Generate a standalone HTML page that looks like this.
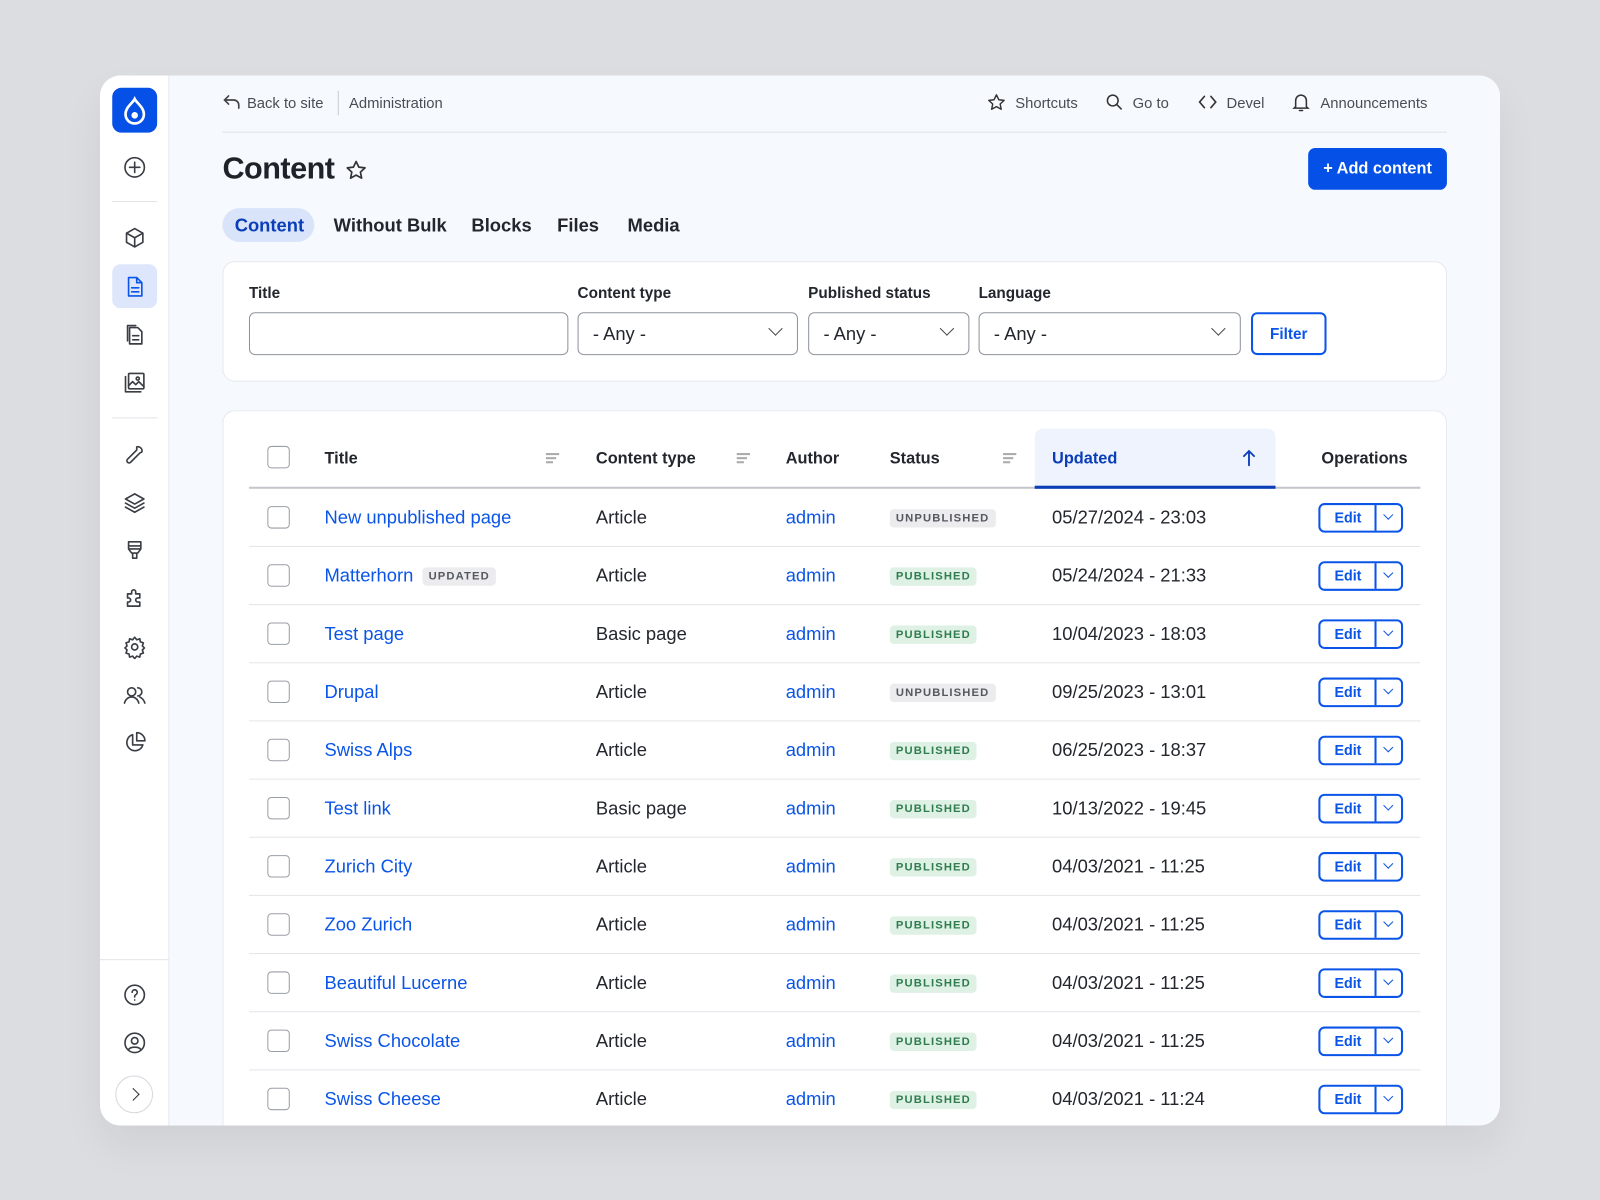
<!DOCTYPE html>
<html><head><meta charset="utf-8">
<style>
*{box-sizing:border-box;margin:0;padding:0}
html,body{width:1600px;height:1200px;overflow:hidden;background:#dcdde1;font-family:"Liberation Sans",sans-serif}
#w{position:absolute;left:0;top:0;width:1568px;height:1176px;transform:scale(1.020408);transform-origin:0 0}
.a{position:absolute}
#card{left:98px;top:74px;width:1372px;height:1029px;border-radius:20px;background:#f6f9fe;overflow:hidden;box-shadow:0 20px 40px rgba(0,0,0,.06)}
#side{left:0;top:0;width:68px;height:1029px;background:#fff;border-right:1px solid #e6e8ec}
.ic{position:absolute;left:22px;width:24px;height:24px}
.ic svg{width:24px;height:24px;fill:none;stroke:#3a3d44;stroke-width:1.6;stroke-linecap:round;stroke-linejoin:round}
.t{position:absolute;white-space:nowrap}
.top{font-size:14.5px;color:#4a4d55;top:94px}
.tab{font-size:18px;font-weight:bold;color:#23262d;top:211px}
.lbl{font-size:15px;font-weight:bold;color:#23262d;top:279px}
.inp{position:absolute;top:306px;height:42px;border:1px solid #8e929c;border-radius:6px;background:#fff;font-size:18px;color:#23262d;padding:10px 14px}
.chev{position:absolute;right:16px;width:10px;height:10px;border-right:1.6px solid #444;border-bottom:1.6px solid #444;transform:rotate(45deg);top:10px}
.th{position:absolute;font-size:16px;font-weight:bold;color:#23262d;top:441px}
.sorti{position:absolute;top:444px;width:13px;height:10px}
.sorti i{display:block;height:1.5px;background:#aaa;margin-bottom:2.5px}
.cb{position:absolute;left:262px;width:22px;height:22px;border:1.5px solid #9a9ea6;border-radius:4px;background:#fff}
.row{position:absolute;left:244px;width:1148px;height:57px;border-bottom:1px solid #e3e5e9}
.lk{position:absolute;font-size:18px;color:#0a55e8;margin-top:1px}
.tx{position:absolute;font-size:18px;color:#23262d;margin-top:1px}
.bd{position:absolute;font-size:11px;font-weight:bold;letter-spacing:1.1px;padding:3px 6px;border-radius:4px}
.un{background:#ececee;color:#55585e}
.pu{background:#def1e4;color:#2f7d4f}
.ed{position:absolute;left:1292px;width:83px;height:29px;border:2px solid #0a55e8;border-radius:6px;background:#fff}
.ed span{position:absolute;left:0;width:54px;top:4px;text-align:center;font-size:14px;font-weight:bold;color:#0a55e8}
.ed b{position:absolute;left:53px;top:0;bottom:0;width:1.5px;background:#0a55e8}
.ed i{position:absolute;left:63px;top:6px;width:7px;height:7px;border-right:1.8px solid #0a55e8;border-bottom:1.8px solid #0a55e8;transform:rotate(45deg)}
</style></head><body><div id="w">
<div id="card" class="a">
 <div id="side" class="a">
  <div class="a" style="left:12px;top:12px;width:44px;height:44px;border-radius:9px;background:#0550e6"><svg width="44" height="44" viewBox="0 0 44 44"><path d="M22 11c2 4 9 8 9 15a9 9 0 0 1-18 0c0-7 7-11 9-15z" fill="none" stroke="#fff" stroke-width="2.6"/><circle cx="22" cy="27" r="3.2" fill="#fff"/></svg></div>
  <div class="ic" style="top:78px"><svg viewBox="0 0 24 24"><circle cx="12" cy="12" r="9.5"/><path d="M12 7v10M7 12h10"/></svg></div>
  <div class="a" style="left:12px;top:123px;width:44px;height:1px;background:#e1e3e7"></div>
  <div class="ic" style="top:147px"><svg viewBox="0 0 24 24"><path d="M12 3l8 4.5v9L12 21l-8-4.5v-9z M4 7.5l8 4.5 8-4.5M12 12v9"/></svg></div>
  <div class="a" style="left:12px;top:185px;width:44px;height:43px;border-radius:8px;background:#dde6fb"></div>
  <div class="ic" style="top:195px"><svg viewBox="0 0 24 24" style="stroke:#0a55e8"><path d="M6 3h8l5 5v13H6z M14 3v5h5M9 13h7M9 17h7"/></svg></div>
  <div class="ic" style="top:242px"><svg viewBox="0 0 24 24"><path d="M7 5h8l4 4v12H7z M5 3h8M5 3v15M10 13h6M10 17h6"/></svg></div>
  <div class="ic" style="top:289px"><svg viewBox="0 0 24 24"><rect x="6" y="3" width="15" height="15" rx="1"/><path d="M3 6v15h15M6 15l4-4 3 3 3-3 5 5"/><circle cx="15" cy="8" r="1.5"/></svg></div>
  <div class="a" style="left:12px;top:335px;width:44px;height:1px;background:#e1e3e7"></div>
  <div class="ic" style="top:358px"><svg viewBox="0 0 24 24"><path d="M14 6a4 4 0 0 1 5 5l-2 1-9 9a2 2 0 0 1-3-3l9-9z"/></svg></div>
  <div class="ic" style="top:406px"><svg viewBox="0 0 24 24"><path d="M12 4l9 5-9 5-9-5z M3 13l9 5 9-5M3 17l9 5 9-5"/></svg></div>
  <div class="ic" style="top:453px"><svg viewBox="0 0 24 24"><path d="M6 4h12v7H6z M6 8h12M6 11l3 4h6l3-4M10 15v5h4v-5"/></svg></div>
  <div class="ic" style="top:501px"><svg viewBox="0 0 24 24"><path d="M9 5a2 2 0 0 1 4 0v2h4v4h-2a2 2 0 0 0 0 4h2v4H5v-4h1a2 2 0 0 0 0-4H5V7h4z"/></svg></div>
  <div class="ic" style="top:548px"><svg viewBox="0 0 24 24"><circle cx="12" cy="12" r="3"/><path d="M12 2.5l2 2.5 3-1 .5 3 3 1-1 3 2 2-2 2 1 3-3 1-.5 3-3-1-2 2.5-2-2.5-3 1-.5-3-3-1 1-3-2-2 2-2-1-3 3-1 .5-3 3 1z"/></svg></div>
  <div class="ic" style="top:595px"><svg viewBox="0 0 24 24"><circle cx="9" cy="9" r="4"/><path d="M2 20c1-4 4-6 7-6s6 2 7 6M15 5a4 4 0 0 1 0 8M17 14c2 1 4 3 5 6"/></svg></div>
  <div class="ic" style="top:642px"><svg viewBox="0 0 24 24"><path d="M10 4a8 8 0 1 0 10 10H10z M14 2v8h8a8 8 0 0 0-8-8z"/></svg></div>
  <div class="a" style="left:0;top:866px;width:68px;height:1px;background:#e1e3e7"></div>
  <div class="ic" style="top:889px"><svg viewBox="0 0 24 24"><circle cx="12" cy="12" r="9.5"/><path d="M9.5 9.5a2.5 2.5 0 1 1 3.5 2.3c-.7.4-1 1-1 1.7v.5M12 17h0"/></svg></div>
  <div class="ic" style="top:936px"><svg viewBox="0 0 24 24"><circle cx="12" cy="12" r="9.5"/><circle cx="12" cy="10" r="3.2"/><path d="M6 18.5c2-3 10-3 12 0"/></svg></div>
  <div class="a" style="left:15px;top:980px;width:37px;height:37px;border-radius:50%;border:1px solid #d5d8dd;background:#fff"><div class="a" style="left:12px;top:13px;width:9px;height:9px;border-right:1.6px solid #333;border-top:1.6px solid #333;transform:rotate(45deg)"></div></div>
 </div>
</div>
<svg class="a" style="left:218px;top:91px" width="18" height="18" viewBox="0 0 18 18" fill="none" stroke="#444" stroke-width="1.6" stroke-linecap="round"><path d="M6 3L2 7l4 4M2 7h9a5 5 0 0 1 5 5v3"/></svg>
<div class="t top" style="left:242px">Back to site</div>
<div class="a" style="left:331px;top:89px;width:1px;height:24px;background:#c9ccd2"></div>
<div class="t top" style="left:342px">Administration</div>
<svg class="a" style="left:967px;top:91px" width="19" height="19" viewBox="0 0 24 24" fill="none" stroke="#333" stroke-width="1.8" stroke-linejoin="round"><path d="M12 2.5l2.9 6 6.6.8-4.9 4.5 1.3 6.5L12 17l-5.9 3.3 1.3-6.5-4.9-4.5 6.6-.8z"/></svg>
<div class="t top" style="left:995px">Shortcuts</div>
<svg class="a" style="left:1083px;top:91px" width="18" height="18" viewBox="0 0 24 24" fill="none" stroke="#333" stroke-width="2" stroke-linecap="round"><circle cx="10" cy="10" r="7"/><path d="M15 15l6 6"/></svg>
<div class="t top" style="left:1110px">Go to</div>
<svg class="a" style="left:1174px;top:92px" width="19" height="16" viewBox="0 0 24 20" fill="none" stroke="#333" stroke-width="2" stroke-linecap="round"><path d="M8 3L2 10l6 7M16 3l6 7-6 7"/></svg>
<div class="t top" style="left:1202px">Devel</div>
<svg class="a" style="left:1266px;top:90px" width="18" height="20" viewBox="0 0 24 26" fill="none" stroke="#333" stroke-width="2" stroke-linecap="round"><path d="M5 19V11a7 7 0 0 1 14 0v8l2 2H3zM10 24h4"/></svg>
<div class="t top" style="left:1294px">Announcements</div>
<div class="a" style="left:218px;top:129px;width:1200px;height:1px;background:#dfe2e7"></div>
<div class="t" style="left:218px;top:149px;font-size:30px;font-weight:bold;color:#1f2228;letter-spacing:-.5px">Content</div>
<svg class="a" style="left:338px;top:156px" width="22" height="22" viewBox="0 0 24 24" fill="none" stroke="#333" stroke-width="1.8" stroke-linejoin="round"><path d="M12 2.5l2.9 6 6.6.8-4.9 4.5 1.3 6.5L12 17l-5.9 3.3 1.3-6.5-4.9-4.5 6.6-.8z"/></svg>
<div class="a" style="left:1282px;top:145px;width:136px;height:41px;border-radius:7px;background:#0550e6;color:#fff;font-size:16px;font-weight:bold;text-align:center;line-height:42px">+ Add content</div>
<div class="a" style="left:218px;top:204px;width:90px;height:33px;border-radius:17px;background:#d9e3f9"></div>
<div class="t tab" style="left:230px;color:#0a3db8">Content</div>
<div class="t tab" style="left:327px">Without Bulk</div>
<div class="t tab" style="left:462px">Blocks</div>
<div class="t tab" style="left:546px">Files</div>
<div class="t tab" style="left:615px">Media</div>
<div class="a" style="left:218px;top:256px;width:1200px;height:118px;background:#fff;border-radius:12px;border:1px solid #e6e9ee"></div>
<div class="t lbl" style="left:244px">Title</div>
<div class="t lbl" style="left:566px">Content type</div>
<div class="t lbl" style="left:792px">Published status</div>
<div class="t lbl" style="left:959px">Language</div>
<div class="inp" style="left:244px;width:313px"></div>
<div class="inp" style="left:566px;width:216px">- Any -<div class="chev"></div></div>
<div class="inp" style="left:792px;width:158px">- Any -<div class="chev"></div></div>
<div class="inp" style="left:959px;width:257px">- Any -<div class="chev"></div></div>
<div class="a" style="left:1226px;top:306px;width:74px;height:42px;border:2px solid #0a55e8;border-radius:6px;background:#fff;color:#0a55e8;font-size:15px;font-weight:bold;text-align:center;line-height:39px">Filter</div>
<div class="a" style="left:218px;top:402px;width:1200px;height:701px;background:#fff;border-radius:12px 12px 0 0;border:1px solid #e6e9ee;border-bottom:none"></div>
<div class="a" style="left:1014px;top:420px;width:236px;height:59px;background:#eff3fd;border-radius:8px 8px 0 0"></div>
<div class="a" style="left:244px;top:477px;width:1148px;height:2px;background:#c4c6cb"></div>
<div class="a" style="left:1014px;top:476px;width:236px;height:3px;background:#0a3db8"></div>
<div class="cb" style="top:437px"></div>
<div class="th" style="left:318px">Title</div>
<div class="sorti" style="left:535px"><i style="width:13px"></i><i style="width:10px"></i><i style="width:7px"></i></div>
<div class="th" style="left:584px">Content type</div>
<div class="sorti" style="left:722px"><i style="width:13px"></i><i style="width:10px"></i><i style="width:7px"></i></div>
<div class="th" style="left:770px">Author</div>
<div class="th" style="left:872px">Status</div>
<div class="sorti" style="left:983px"><i style="width:13px"></i><i style="width:10px"></i><i style="width:7px"></i></div>
<div class="th" style="left:1031px;color:#0a3db8">Updated</div>
<svg class="a" style="left:1217px;top:440px" width="14" height="17" viewBox="0 0 14 17" fill="none" stroke="#0a3db8" stroke-width="1.8" stroke-linecap="round"><path d="M7 16V2M2 7l5-5 5 5"/></svg>
<div class="th" style="left:1295px">Operations</div>

<div class="row" style="top:479px"></div><div class="cb" style="top:496px"></div>
<div class="lk" style="left:318px;top:496px">New unpublished page</div><div class="tx" style="left:584px;top:496px">Article</div><div class="lk" style="left:770px;top:496px">admin</div><div class="bd un" style="left:872px;top:499px">UNPUBLISHED</div><div class="tx" style="left:1031px;top:496px">05/27/2024 - 23:03</div><div class="ed" style="top:493px"><span>Edit</span><b></b><i></i></div>

<div class="row" style="top:536px"></div><div class="cb" style="top:553px"></div>
<div class="lk" style="left:318px;top:553px">Matterhorn</div><div class="bd un" style="left:414px;top:556px">UPDATED</div><div class="tx" style="left:584px;top:553px">Article</div><div class="lk" style="left:770px;top:553px">admin</div><div class="bd pu" style="left:872px;top:556px">PUBLISHED</div><div class="tx" style="left:1031px;top:553px">05/24/2024 - 21:33</div><div class="ed" style="top:550px"><span>Edit</span><b></b><i></i></div>

<div class="row" style="top:593px"></div><div class="cb" style="top:610px"></div>
<div class="lk" style="left:318px;top:610px">Test page</div><div class="tx" style="left:584px;top:610px">Basic page</div><div class="lk" style="left:770px;top:610px">admin</div><div class="bd pu" style="left:872px;top:613px">PUBLISHED</div><div class="tx" style="left:1031px;top:610px">10/04/2023 - 18:03</div><div class="ed" style="top:607px"><span>Edit</span><b></b><i></i></div>

<div class="row" style="top:650px"></div><div class="cb" style="top:667px"></div>
<div class="lk" style="left:318px;top:667px">Drupal</div><div class="tx" style="left:584px;top:667px">Article</div><div class="lk" style="left:770px;top:667px">admin</div><div class="bd un" style="left:872px;top:670px">UNPUBLISHED</div><div class="tx" style="left:1031px;top:667px">09/25/2023 - 13:01</div><div class="ed" style="top:664px"><span>Edit</span><b></b><i></i></div>

<div class="row" style="top:707px"></div><div class="cb" style="top:724px"></div>
<div class="lk" style="left:318px;top:724px">Swiss Alps</div><div class="tx" style="left:584px;top:724px">Article</div><div class="lk" style="left:770px;top:724px">admin</div><div class="bd pu" style="left:872px;top:727px">PUBLISHED</div><div class="tx" style="left:1031px;top:724px">06/25/2023 - 18:37</div><div class="ed" style="top:721px"><span>Edit</span><b></b><i></i></div>

<div class="row" style="top:764px"></div><div class="cb" style="top:781px"></div>
<div class="lk" style="left:318px;top:781px">Test link</div><div class="tx" style="left:584px;top:781px">Basic page</div><div class="lk" style="left:770px;top:781px">admin</div><div class="bd pu" style="left:872px;top:784px">PUBLISHED</div><div class="tx" style="left:1031px;top:781px">10/13/2022 - 19:45</div><div class="ed" style="top:778px"><span>Edit</span><b></b><i></i></div>

<div class="row" style="top:821px"></div><div class="cb" style="top:838px"></div>
<div class="lk" style="left:318px;top:838px">Zurich City</div><div class="tx" style="left:584px;top:838px">Article</div><div class="lk" style="left:770px;top:838px">admin</div><div class="bd pu" style="left:872px;top:841px">PUBLISHED</div><div class="tx" style="left:1031px;top:838px">04/03/2021 - 11:25</div><div class="ed" style="top:835px"><span>Edit</span><b></b><i></i></div>

<div class="row" style="top:878px"></div><div class="cb" style="top:895px"></div>
<div class="lk" style="left:318px;top:895px">Zoo Zurich</div><div class="tx" style="left:584px;top:895px">Article</div><div class="lk" style="left:770px;top:895px">admin</div><div class="bd pu" style="left:872px;top:898px">PUBLISHED</div><div class="tx" style="left:1031px;top:895px">04/03/2021 - 11:25</div><div class="ed" style="top:892px"><span>Edit</span><b></b><i></i></div>

<div class="row" style="top:935px"></div><div class="cb" style="top:952px"></div>
<div class="lk" style="left:318px;top:952px">Beautiful Lucerne</div><div class="tx" style="left:584px;top:952px">Article</div><div class="lk" style="left:770px;top:952px">admin</div><div class="bd pu" style="left:872px;top:955px">PUBLISHED</div><div class="tx" style="left:1031px;top:952px">04/03/2021 - 11:25</div><div class="ed" style="top:949px"><span>Edit</span><b></b><i></i></div>

<div class="row" style="top:992px"></div><div class="cb" style="top:1009px"></div>
<div class="lk" style="left:318px;top:1009px">Swiss Chocolate</div><div class="tx" style="left:584px;top:1009px">Article</div><div class="lk" style="left:770px;top:1009px">admin</div><div class="bd pu" style="left:872px;top:1012px">PUBLISHED</div><div class="tx" style="left:1031px;top:1009px">04/03/2021 - 11:25</div><div class="ed" style="top:1006px"><span>Edit</span><b></b><i></i></div>

<div class="cb" style="top:1066px"></div>
<div class="lk" style="left:318px;top:1066px">Swiss Cheese</div><div class="tx" style="left:584px;top:1066px">Article</div><div class="lk" style="left:770px;top:1066px">admin</div><div class="bd pu" style="left:872px;top:1069px">PUBLISHED</div><div class="tx" style="left:1031px;top:1066px">04/03/2021 - 11:24</div><div class="ed" style="top:1063px"><span>Edit</span><b></b><i></i></div>
</div></body></html>
